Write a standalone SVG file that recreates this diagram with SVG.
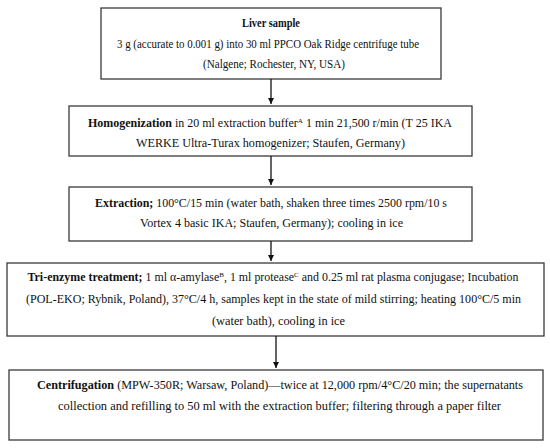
<svg xmlns="http://www.w3.org/2000/svg" width="550" height="448" viewBox="0 0 550 448">
<defs>
<style>
.box{fill:#fff;stroke:#3a3a3a;stroke-width:1.3}
.t{font-family:"Liberation Serif","DejaVu Serif",serif;font-size:11.8px;fill:#111;text-anchor:middle}
.b{font-weight:bold}
.sup{font-size:7px}
.conn line{stroke:#111;stroke-width:1.3}
</style>
<marker id="ah" viewBox="0 0 10 10" refX="10" refY="5" markerWidth="8" markerHeight="6" markerUnits="userSpaceOnUse" orient="auto">
<path d="M0,0 L10,5 L0,10 z" fill="#111"/>
</marker>
</defs>
<rect width="550" height="448" fill="#fff"/>
<g id="n1">
<rect class="box" x="101" y="8" width="340" height="71"/>
<text class="t b" x="271" y="27" textLength="58" lengthAdjust="spacingAndGlyphs">Liver sample</text>
<text class="t" x="268" y="48" textLength="302" lengthAdjust="spacingAndGlyphs">3 g (accurate to 0.001 g) into 30 ml PPCO Oak Ridge centrifuge tube</text>
<text class="t" x="274" y="68" textLength="142" lengthAdjust="spacingAndGlyphs">(Nalgene; Rochester, NY, USA)</text>
</g>
<g id="n2">
<rect class="box" x="69" y="106" width="403" height="50"/>
<text class="t" x="270" y="127" textLength="364" lengthAdjust="spacingAndGlyphs"><tspan class="b">Homogenization</tspan> in 20 ml extraction buffer<tspan class="sup" dy="-4">A</tspan><tspan dy="4"> 1 min 21,500 r/min (T 25 IKA</tspan></text>
<text class="t" x="270.5" y="147" textLength="269" lengthAdjust="spacingAndGlyphs">WERKE Ultra-Turax homogenizer; Staufen, Germany)</text>
</g>
<g id="n3">
<rect class="box" x="69" y="187" width="403" height="54"/>
<text class="t" x="271" y="207" textLength="352" lengthAdjust="spacingAndGlyphs"><tspan class="b">Extraction;</tspan> 100°C/15 min (water bath, shaken three times 2500 rpm/10 s</text>
<text class="t" x="271.5" y="227" textLength="263" lengthAdjust="spacingAndGlyphs">Vortex 4 basic IKA; Staufen, Germany); cooling in ice</text>
</g>
<g id="n4">
<rect class="box" x="7" y="263" width="537" height="73"/>
<text class="t" x="273" y="281" textLength="491" lengthAdjust="spacingAndGlyphs"><tspan class="b">Tri-enzyme treatment;</tspan> 1 ml α-amylase<tspan class="sup" dy="-4">B</tspan><tspan dy="4">, 1 ml protease</tspan><tspan class="sup" dy="-4">C</tspan><tspan dy="4"> and 0.25 ml rat plasma conjugase; Incubation</tspan></text>
<text class="t" x="273.5" y="303" textLength="495" lengthAdjust="spacingAndGlyphs">(POL-EKO; Rybnik, Poland), 37°C/4 h, samples kept in the state of mild stirring; heating 100°C/5 min</text>
<text class="t" x="278.5" y="325" textLength="133" lengthAdjust="spacingAndGlyphs">(water bath), cooling in ice</text>
</g>
<g id="n5">
<rect class="box" x="9" y="370" width="534" height="70"/>
<text class="t" x="280" y="389" textLength="486" lengthAdjust="spacingAndGlyphs"><tspan class="b">Centrifugation</tspan> (MPW-350R; Warsaw, Poland)—twice at 12,000 rpm/4°C/20 min; the supernatants</text>
<text class="t" x="279.5" y="410" textLength="443" lengthAdjust="spacingAndGlyphs">collection and refilling to 50 ml with the extraction buffer; filtering through a paper filter</text>
</g>
<g id="connectors" class="conn">
<line x1="271" y1="79" x2="271" y2="104" marker-end="url(#ah)"/>
<line x1="271" y1="156" x2="271" y2="185" marker-end="url(#ah)"/>
<line x1="271" y1="241" x2="271" y2="261" marker-end="url(#ah)"/>
<line x1="276" y1="336" x2="276" y2="368" marker-end="url(#ah)"/>
</g>
</svg>
